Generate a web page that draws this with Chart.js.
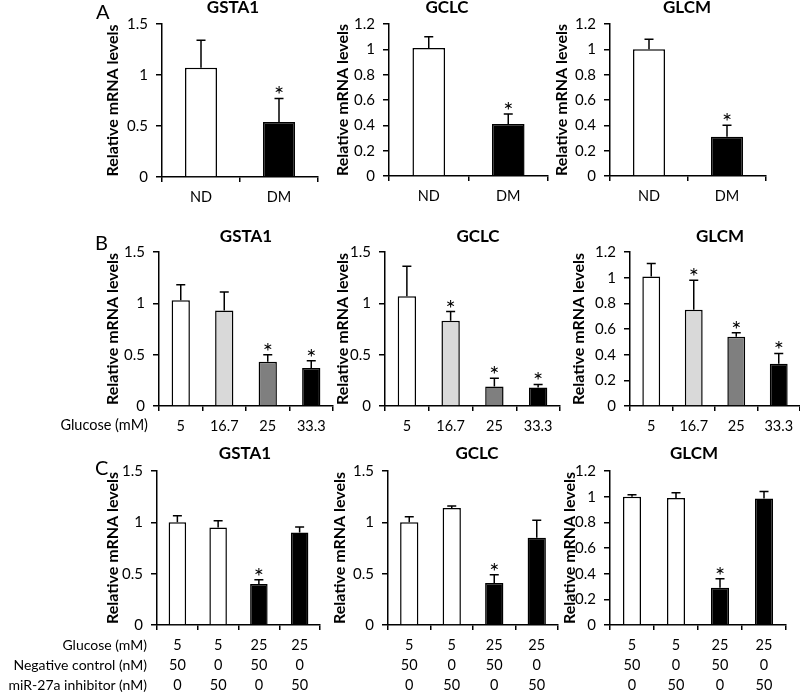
<!DOCTYPE html>
<html><head><meta charset="utf-8">
<script src="https://cdn.jsdelivr.net/npm/chart.js@4.4.0/dist/chart.umd.min.js"></script>
<style>
html,body{margin:0;padding:0;background:#fff;width:800px;height:693px;overflow:hidden;position:relative;font-family:Lato,sans-serif;}
canvas{position:absolute;}
.lbl{position:absolute;color:#000;white-space:nowrap;font-family:Lato,sans-serif;line-height:20px;}
</style></head><body>
<script>
// ---------- DATA ----------
const categoriesA = ['ND', 'DM'];
const gsta1A = [1.07, 0.54];
const gsta1AErr = [0.27, 0.23];
const gclcA = [1.01, 0.41];
const gclcAErr = [0.09, 0.08];
const glcmA = [1.00, 0.31];
const glcmAErr = [0.08, 0.09];
const sigA_gsta1 = [false, true];
const sigA_gclc = [false, true];
const sigA_glcm = [false, true];

const glucoseB = ['5', '16.7', '25', '33.3'];
const gsta1B = [1.03, 0.93, 0.43, 0.37];
const gsta1BErr = [0.15, 0.18, 0.07, 0.07];
const gclcB = [1.07, 0.83, 0.19, 0.18];
const gclcBErr = [0.29, 0.09, 0.08, 0.03];
const glcmB = [1.01, 0.75, 0.54, 0.33];
const glcmBErr = [0.10, 0.23, 0.03, 0.08];
const sigB_gsta1 = [false, false, true, true];
const sigB_gclc = [false, true, true, true];
const sigB_glcm = [false, true, true, true];

const glucoseC = ['5', '5', '25', '25'];
const negControlC = ['50', '0', '50', '0'];
const inhibitorC = ['0', '50', '0', '50'];
const gsta1C = [1.00, 0.95, 0.40, 0.90];
const gsta1CErr = [0.065, 0.065, 0.04, 0.055];
const gclcC = [1.00, 1.14, 0.41, 0.85];
const gclcCErr = [0.055, 0.02, 0.08, 0.17];
const glcmC = [1.00, 0.99, 0.29, 0.985];
const glcmCErr = [0.015, 0.04, 0.07, 0.055];
const sigC = [false, false, true, false];

const yTicks12 = {max: 1.2, step: 0.2};
const yTicks15 = {max: 1.5, step: 0.5};

const labelsC = glucoseC.map((g, i) => [g, negControlC[i], inhibitorC[i]]);

// ---------- STYLES ----------
const WHITE = '#ffffff', LIGHT = '#d9d9d9', DARK = '#7f7f7f', BLACK = '#000000';
const colorsA = [WHITE, BLACK];
const colorsB = [WHITE, LIGHT, DARK, BLACK];
const colorsC = [WHITE, WHITE, BLACK, BLACK];
const FONT = 'Lato, sans-serif';

// layout of each panel (pixel positions on the page)
const panels = [
  {title:'GSTA1', labels:categoriesA, values:gsta1A, errors:gsta1AErr, sig:sigA_gsta1, colors:colorsA, y:yTicks15,
   plotLeft:162, plotRight:318, plotTop:24, plotBottom:177, yTitleX:113, titleX:233, titleY:8, xH:32, barPct:0.41},
  {title:'GCLC', labels:categoriesA, values:gclcA, errors:gclcAErr, sig:sigA_gclc, colors:colorsA, y:yTicks12,
   plotLeft:389, plotRight:548, plotTop:24, plotBottom:176, yTitleX:343, titleX:447, titleY:8, xH:32, barPct:0.41},
  {title:'GLCM', labels:categoriesA, values:glcmA, errors:glcmAErr, sig:sigA_glcm, colors:colorsA, y:yTicks12,
   plotLeft:610, plotRight:766, plotTop:24, plotBottom:176, yTitleX:562, titleX:687, titleY:8, xH:32, barPct:0.41},

  {title:'GSTA1', labels:glucoseB, values:gsta1B, errors:gsta1BErr, sig:sigB_gsta1, colors:colorsB, y:yTicks15,
   plotLeft:159, plotRight:333, plotTop:252, plotBottom:406, yTitleX:113, titleX:246, titleY:237, xH:32, barPct:0.42},
  {title:'GCLC', labels:glucoseB, values:gclcB, errors:gclcBErr, sig:sigB_gclc, colors:colorsB, y:yTicks15,
   plotLeft:385, plotRight:560, plotTop:252, plotBottom:406, yTitleX:343, titleX:478, titleY:237, xH:32, barPct:0.42},
  {title:'GLCM', labels:glucoseB, values:glcmB, errors:glcmBErr, sig:sigB_glcm, colors:colorsB, y:yTicks12,
   plotLeft:630, plotRight:800, plotTop:252, plotBottom:406, yTitleX:579, titleX:720, titleY:237, xH:32, barPct:0.42},

  {title:'GSTA1', labels:labelsC, values:gsta1C, errors:gsta1CErr, sig:sigC, colors:colorsC, y:yTicks15,
   plotLeft:157, plotRight:320, plotTop:471, plotBottom:625, yTitleX:113, titleX:245, titleY:454, xH:72, barPct:0.43},
  {title:'GCLC', labels:labelsC, values:gclcC, errors:gclcCErr, sig:sigC, colors:colorsC, y:yTicks15,
   plotLeft:388, plotRight:558, plotTop:471, plotBottom:625, yTitleX:340, titleX:477, titleY:454, xH:72, barPct:0.43},
  {title:'GLCM', labels:labelsC, values:glcmC, errors:glcmCErr, sig:sigC, colors:colorsC, y:yTicks12,
   plotLeft:610, plotRight:786, plotTop:471, plotBottom:625, yTitleX:570, titleX:694, titleY:454, xH:72, barPct:0.41},
];

const annotPlugin = {
  id: 'annot',
  afterDatasetsDraw(chart) {
    const p = chart.options.plugins.annot;
    const ctx = chart.ctx;
    const meta = chart.getDatasetMeta(0);
    const ys = chart.scales.y;
    ctx.save();
    ctx.strokeStyle = '#000';
    ctx.lineWidth = 1.5;
    p.values.forEach((v, i) => {
      const x = meta.data[i].x;
      const y0 = ys.getPixelForValue(v);
      const y1 = ys.getPixelForValue(v + p.errors[i]);
      ctx.beginPath();
      ctx.moveTo(x, y0); ctx.lineTo(x, y1);
      ctx.moveTo(x - 4.5, y1); ctx.lineTo(x + 4.5, y1);
      ctx.stroke();
      if (p.sig[i]) {
        ctx.fillStyle = '#000';
        ctx.font = '24px ' + FONT;
        ctx.textAlign = 'center';
        ctx.textBaseline = 'alphabetic';
        ctx.fillText('*', x, y1 + 5);
      }
    });
    // panel title
    ctx.fillStyle = '#000';
    ctx.font = 'bold 17px ' + FONT;
    ctx.textAlign = 'center';
    ctx.textBaseline = 'middle';
    ctx.fillText(p.title, p.tx, p.ty);
    ctx.restore();
  }
};

const fmt = v => String(Math.round(v * 100) / 100);

panels.forEach(p => {
  const canvasLeft = p.yTitleX - 12;
  const canvasTop = p.plotTop - 30;
  const canvasRight = Math.max(p.plotRight + 6, p.titleX + 40);
  const W = canvasRight - canvasLeft;
  const H = p.plotBottom + p.xH - canvasTop;
  const c = document.createElement('canvas');
  c.width = W; c.height = H;
  c.style.left = canvasLeft + 'px'; c.style.top = canvasTop + 'px';
  c.style.width = W + 'px'; c.style.height = H + 'px';
  document.body.appendChild(c);
  const yW = p.plotLeft - canvasLeft;
  const xH = p.xH;
  new Chart(c, {
    type: 'bar',
    data: {
      labels: p.labels,
      datasets: [{
        data: p.values,
        backgroundColor: p.colors,
        borderColor: '#000',
        borderWidth: 1.5,
        categoryPercentage: 1,
        barPercentage: p.barPct
      }]
    },
    options: {
      responsive: false,
      animation: false,
      devicePixelRatio: 1,
      layout: {autoPadding: false, padding: {left: 0, top: 30, right: canvasRight - p.plotRight, bottom: 0}},
      plugins: {
        legend: {display: false},
        tooltip: {enabled: false},
        title: {display: false},
        annot: {values: p.values, errors: p.errors, sig: p.sig, title: p.title,
                tx: p.titleX - canvasLeft, ty: p.titleY - canvasTop}
      },
      scales: {
        x: {
          offset: true,
          grid: {display: true, drawOnChartArea: false, drawTicks: true, tickLength: 5, offset: true, color: '#000', lineWidth: 1.5},
          border: {display: true, color: '#000', width: 1.5},
          ticks: {color: '#000', font: {family: FONT, size: 14.5, lineHeight: 1.38}, padding: 5, maxRotation: 0, autoSkip: false},
          afterFit(s) { s.height = xH; }
        },
        y: {
          min: 0, max: p.y.max,
          grid: {display: true, drawOnChartArea: false, drawTicks: true, tickLength: 6, color: '#000', lineWidth: 1.5},
          border: {display: true, color: '#000', width: 1.5},
          ticks: {stepSize: p.y.step, color: '#000', font: {family: FONT, size: 15}, padding: 8, callback: fmt},
          title: {display: true, text: 'Relative mRNA levels', color: '#000',
                  font: {family: FONT, size: 16, weight: 'bold'}, padding: {top: 2.4, bottom: 0}},
          afterFit(s) { s.width = yW; }
        }
      }
    },
    plugins: [annotPlugin]
  });
});

// panel letters and row labels
function addLabel(text, x, y, opts) {
  const d = document.createElement('div');
  d.className = 'lbl';
  d.textContent = text;
  d.style.fontSize = (opts.size || 14) + 'px';
  if (opts.right) { d.style.right = (800 - x) + 'px'; d.style.textAlign = 'right'; }
  else { d.style.left = x + 'px'; }
  d.style.top = (y - 10) + 'px';
  document.body.appendChild(d);
}
addLabel('A', 96, 11, {size: 20});
addLabel('B', 95, 242, {size: 20});
addLabel('C', 95, 467, {size: 20});
addLabel('Glucose (mM)', 148, 425, {right: true, size: 14.5});
addLabel('Glucose (mM)', 147, 645, {right: true});
addLabel('Negative control (nM)', 147, 665, {right: true});
addLabel('miR-27a inhibitor (nM)', 147, 685, {right: true});
</script>
</body></html>
